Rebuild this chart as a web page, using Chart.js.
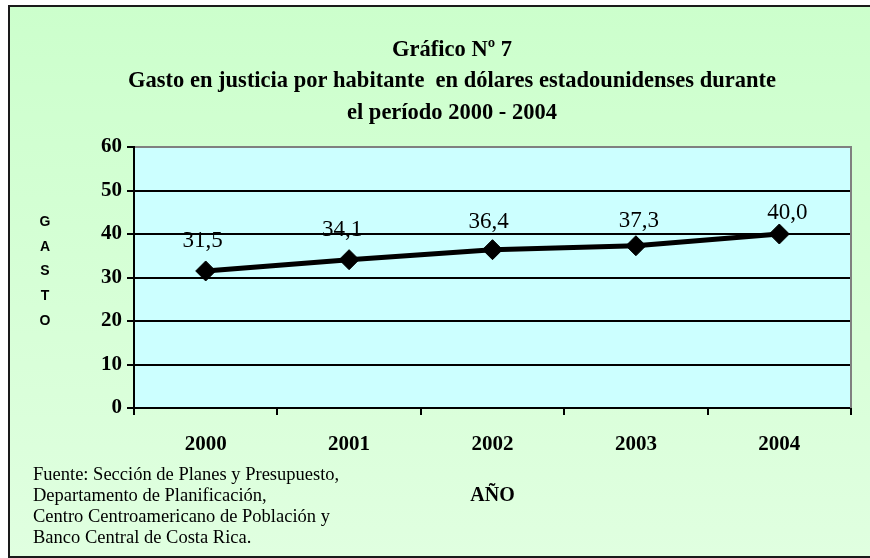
<!DOCTYPE html>
<html><head><meta charset="utf-8">
<script src="https://cdn.jsdelivr.net/npm/chart.js@4"></script>
<style>html,body{margin:0;padding:0;background:#fff;}#wrap{width:870px;height:558px;}</style>
</head><body><div id="wrap"><canvas id="c" width="870" height="558"></canvas></div>
<script>
const titleLines = ['Gráfico Nº 7', 'Gasto en justicia por habitante  en dólares estadounidenses durante', 'el período 2000 - 2004'];
const years = ['2000', '2001', '2002', '2003', '2004'];
const gasto = [31.5, 34.1, 36.4, 37.3, 40.0];
const yTicks = [0, 10, 20, 30, 40, 50, 60];
const yAxisLetters = ['G', 'A', 'S', 'T', 'O'];
const xAxisTitle = 'AÑO';
const sourceLines = ['Fuente: Sección de Planes y Presupuesto,', 'Departamento de Planificación,', 'Centro Centroamericano de Población y', 'Banco Central de Costa Rica.'];
// label placement offsets (pixels) relative to each point, as placed in the original
const labelOffsetX = [-3, -7, -4, 3, 8];
const labelOffsetY = [-30, -30, -28, -25, -21];

const SERIF = '"Liberation Serif", "Times New Roman", serif';
const SANS = '"Liberation Sans", Arial, sans-serif';

const backgroundPlugin = {
  id: 'bg',
  beforeDraw(chart) {
    const ctx = chart.ctx;
    const {chartArea} = chart;
    ctx.save();
    ctx.fillStyle = '#ffffff';
    ctx.fillRect(0, 0, chart.width, chart.height);
    const g = ctx.createLinearGradient(0, 6, 0, 557);
    g.addColorStop(0, '#ccffcc');
    g.addColorStop(1, '#e0ffe0');
    ctx.fillStyle = g;
    ctx.fillRect(9, 6, chart.width, 551);
    ctx.strokeStyle = '#1a1a1a';
    ctx.lineWidth = 2;
    ctx.strokeRect(9, 6, chart.width + 10, 551);
    ctx.fillStyle = '#ccffff';
    ctx.fillRect(chartArea.left, chartArea.top, chartArea.right - chartArea.left, chartArea.bottom - chartArea.top);
    ctx.restore();
  },
  beforeDatasetsDraw(chart) {
    const ctx = chart.ctx;
    const {chartArea} = chart;
    ctx.save();
    ctx.strokeStyle = '#808080';
    ctx.lineWidth = 2;
    ctx.beginPath();
    ctx.moveTo(chartArea.right, chartArea.top - 1);
    ctx.lineTo(chartArea.right, chartArea.bottom);
    ctx.stroke();
    ctx.restore();
  },
  afterDraw(chart) {
    const ctx = chart.ctx;
    ctx.save();
    ctx.fillStyle = '#000';
    ctx.textAlign = 'center';
    ctx.textBaseline = 'middle';
    ctx.font = 'bold 14px ' + SANS;
    yAxisLetters.forEach((l, i) => ctx.fillText(l, 45, 222 + i * 24.75));
    ctx.textAlign = 'left';
    ctx.font = '18.5px ' + SERIF;
    sourceLines.forEach((l, i) => ctx.fillText(l, 33, 475 + i * 21));
    ctx.restore();
  }
};

const labelPlugin = {
  id: 'vals',
  afterDatasetsDraw(chart) {
    const ctx = chart.ctx;
    const meta = chart.getDatasetMeta(0);
    ctx.save();
    ctx.fillStyle = '#000';
    ctx.textAlign = 'center';
    ctx.textBaseline = 'middle';
    ctx.font = '23px ' + SERIF;
    meta.data.forEach((pt, i) => {
      ctx.fillText(gasto[i].toFixed(1).replace('.', ','), pt.x + labelOffsetX[i], pt.y + labelOffsetY[i]);
    });
    ctx.restore();
  }
};

new Chart(document.getElementById('c'), {
  type: 'line',
  data: {
    labels: years,
    datasets: [{
      data: gasto,
      borderColor: '#000',
      backgroundColor: '#000',
      borderWidth: 5,
      pointStyle: 'rectRot',
      pointRadius: 10,
      pointHoverRadius: 10,
      pointBackgroundColor: '#000',
      pointBorderColor: '#000',
      pointBorderWidth: 1,
      tension: 0,
      fill: false
    }]
  },
  options: {
    responsive: false,
    animation: false,
    devicePixelRatio: 1,
    layout: {padding: {left: 53, right: 19, top: 0, bottom: 0}},
    plugins: {
      legend: {display: false},
      tooltip: {enabled: false},
      title: {
        display: true,
        text: titleLines,
        color: '#000',
        font: {family: SERIF, size: 22.5, weight: 'bold', lineHeight: 1.4},
        padding: {top: 34.25, bottom: 18.25}
      }
    },
    scales: {
      x: {
        type: 'category',
        offset: true,
        grid: {
          display: true,
          drawOnChartArea: false,
          offset: true,
          tickLength: 7,
          color: '#000',
          lineWidth: 2
        },
        border: {display: true, color: '#000', width: 2},
        ticks: {
          color: '#000',
          font: {family: SERIF, size: 21, weight: 'bold'},
          padding: 17,
          maxRotation: 0
        },
        title: {
          display: true,
          text: xAxisTitle,
          color: '#000',
          font: {family: SERIF, size: 20, weight: 'bold', lineHeight: 1.2},
          padding: {top: 0, bottom: 50}
        },
        afterFit(scale) { scale.height = 150; }
      },
      y: {
        min: 0,
        max: 60,
        afterBuildTicks(scale) { scale.ticks = yTicks.map(v => ({value: v})); },
        grid: {
          color: (c) => (c.tick && c.tick.value === 60 ? '#808080' : '#000'),
          tickColor: '#000',
          lineWidth: 2,
          tickLength: 7,
          drawTicks: true
        },
        border: {display: true, color: '#000', width: 2},
        ticks: {
          color: '#000',
          font: {family: SERIF, size: 21, weight: 'bold'},
          padding: 5
        },
        afterFit(scale) { scale.width = 81; }
      }
    }
  },
  plugins: [backgroundPlugin, labelPlugin]
});
</script>
</body></html>
